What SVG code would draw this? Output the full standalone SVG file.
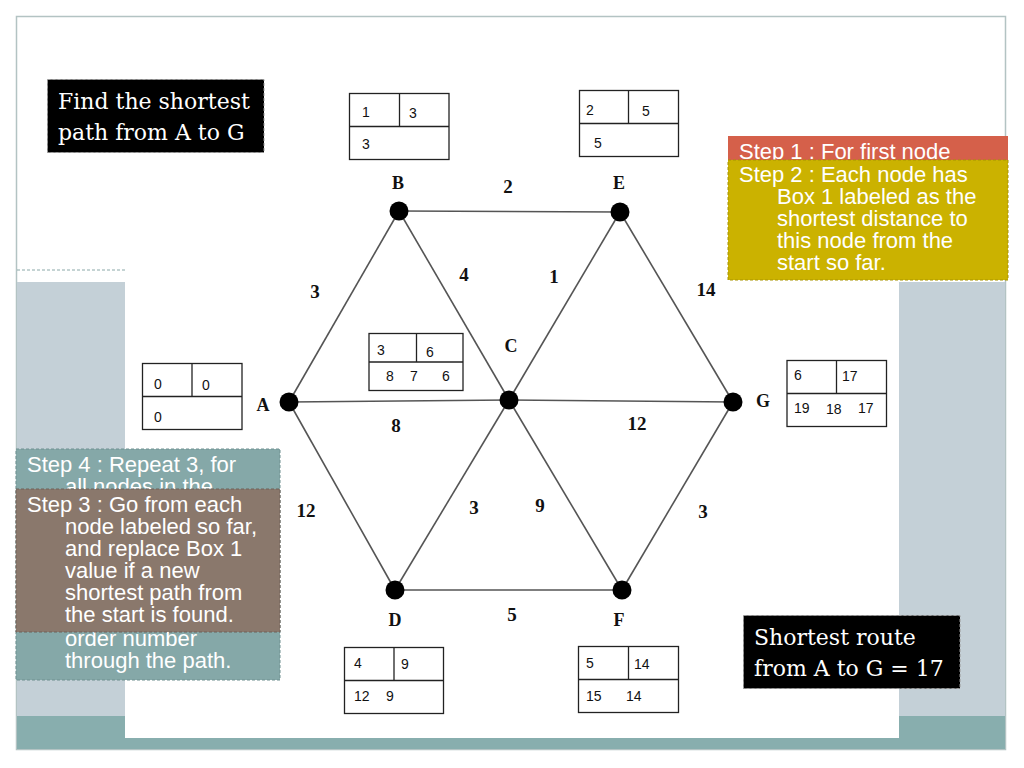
<svg xmlns="http://www.w3.org/2000/svg" width="1024" height="768" viewBox="0 0 1024 768">
<style>
.edge{stroke:#555;stroke-width:1.6;fill:none}
.dot{fill:#000}
.nl{font-family:"Liberation Serif",serif;font-weight:bold;font-size:18px;fill:#111;text-anchor:middle}
.wl{font-family:"Liberation Serif",serif;font-weight:bold;font-size:19px;fill:#111;text-anchor:middle}
.tb{fill:#fff;stroke:#222;stroke-width:1.3}
.tl{stroke:#222;stroke-width:1.3}
.tt{font-family:"Liberation Sans",Arial,sans-serif;font-size:14px;fill:#111}
.st{font-family:"Liberation Sans",Arial,sans-serif;font-size:22px;fill:#fff}
.bt{font-family:"DejaVu Serif",Georgia,serif;font-size:22px;fill:#fff}
</style>
<defs>
<clipPath id="clip4"><rect x="16" y="449" width="264" height="40"/></clipPath>
</defs>
<rect width="1024" height="768" fill="#fff"/>
<rect x="16.5" y="16.5" width="989" height="733" fill="#fff" stroke="#b3c3c3" stroke-width="1.5"/>
<line x1="17" y1="270" x2="125" y2="270" stroke="#8aa8a8" stroke-width="1" stroke-dasharray="3,2"/>
<rect x="17" y="282" width="108" height="434" fill="#c4d0d7"/>
<rect x="899" y="282" width="106" height="434" fill="#c4d0d7"/>
<rect x="17" y="716" width="988" height="33" fill="#88aeae"/>
<rect x="125" y="282" width="774" height="456" fill="#fff"/>

<g id="connectors">
<line class="edge" x1="289" y1="402" x2="399" y2="211"/>
<line class="edge" x1="399" y1="211" x2="620" y2="212"/>
<line class="edge" x1="620" y1="212" x2="733" y2="402"/>
<line class="edge" x1="733" y1="402" x2="622" y2="590"/>
<line class="edge" x1="622" y1="590" x2="395" y2="590"/>
<line class="edge" x1="395" y1="590" x2="289" y2="402"/>
<line class="edge" x1="289" y1="402" x2="509" y2="400"/>
<line class="edge" x1="509" y1="400" x2="733" y2="402"/>
<line class="edge" x1="399" y1="211" x2="509" y2="400"/>
<line class="edge" x1="509" y1="400" x2="622" y2="590"/>
<line class="edge" x1="620" y1="212" x2="509" y2="400"/>
<line class="edge" x1="509" y1="400" x2="395" y2="590"/>
<text class="wl" x="508" y="193">2</text>
<text class="wl" x="315" y="298">3</text>
<text class="wl" x="464" y="281">4</text>
<text class="wl" x="554" y="283">1</text>
<text class="wl" x="706" y="296">14</text>
<text class="wl" x="396" y="432">8</text>
<text class="wl" x="637" y="430">12</text>
<text class="wl" x="306" y="517">12</text>
<text class="wl" x="474" y="514">3</text>
<text class="wl" x="540" y="512">9</text>
<text class="wl" x="703" y="518">3</text>
<text class="wl" x="512" y="621">5</text>
</g>

<g id="node-A">
<circle class="dot" cx="289" cy="402" r="9.5"/>
<text class="nl" x="263" y="411">A</text>
<rect class="tb" x="142.5" y="363.5" width="99.5" height="66"/>
<line class="tl" x1="142.5" y1="396.5" x2="242" y2="396.5"/>
<line class="tl" x1="192" y1="363.5" x2="192" y2="396.5"/>
<text class="tt" x="154" y="389">0</text>
<text class="tt" x="202" y="390">0</text>
<text class="tt" x="154" y="422">0</text>
</g>

<g id="node-B">
<circle class="dot" cx="399" cy="211" r="9.5"/>
<text class="nl" x="398" y="189">B</text>
<rect class="tb" x="349.5" y="93.5" width="99.5" height="66"/>
<line class="tl" x1="349.5" y1="126.5" x2="449" y2="126.5"/>
<line class="tl" x1="399.5" y1="93.5" x2="399.5" y2="126.5"/>
<text class="tt" x="362" y="117">1</text>
<text class="tt" x="409" y="118">3</text>
<text class="tt" x="362" y="149">3</text>
</g>

<g id="node-E">
<circle class="dot" cx="620" cy="212" r="9.5"/>
<text class="nl" x="619" y="189">E</text>
<rect class="tb" x="579.5" y="90.5" width="99" height="66"/>
<line class="tl" x1="579.5" y1="123.5" x2="678.5" y2="123.5"/>
<line class="tl" x1="628.5" y1="90.5" x2="628.5" y2="123.5"/>
<text class="tt" x="586" y="115">2</text>
<text class="tt" x="642" y="116">5</text>
<text class="tt" x="594" y="148">5</text>
</g>

<g id="node-C">
<circle class="dot" cx="509" cy="400" r="9.5"/>
<text class="nl" x="511" y="352">C</text>
<rect class="tb" x="369" y="333.5" width="94" height="57"/>
<line class="tl" x1="369" y1="362" x2="463" y2="362"/>
<line class="tl" x1="416.5" y1="333.5" x2="416.5" y2="362"/>
<text class="tt" x="377" y="355">3</text>
<text class="tt" x="426" y="357">6</text>
<text class="tt" x="386" y="381">8</text>
<text class="tt" x="410" y="381">7</text>
<text class="tt" x="442" y="381">6</text>
</g>

<g id="node-G">
<circle class="dot" cx="733" cy="402" r="9.5"/>
<text class="nl" x="763" y="407">G</text>
<rect class="tb" x="787" y="360.5" width="99.5" height="66"/>
<line class="tl" x1="787" y1="393.5" x2="886.5" y2="393.5"/>
<line class="tl" x1="836.5" y1="360.5" x2="836.5" y2="393.5"/>
<text class="tt" x="794" y="380">6</text>
<text class="tt" x="842" y="381">17</text>
<text class="tt" x="794" y="413">19</text>
<text class="tt" x="826" y="414">18</text>
<text class="tt" x="858" y="413">17</text>
</g>

<g id="node-D">
<circle class="dot" cx="395" cy="590" r="9.5"/>
<text class="nl" x="395" y="626">D</text>
<rect class="tb" x="344.5" y="647.5" width="99" height="66"/>
<line class="tl" x1="344.5" y1="680.5" x2="443.5" y2="680.5"/>
<line class="tl" x1="394" y1="647.5" x2="394" y2="680.5"/>
<text class="tt" x="354" y="668">4</text>
<text class="tt" x="401" y="669">9</text>
<text class="tt" x="354" y="701">12</text>
<text class="tt" x="386" y="701">9</text>
</g>

<g id="node-F">
<circle class="dot" cx="622" cy="590" r="9.5"/>
<text class="nl" x="619" y="626">F</text>
<rect class="tb" x="578.5" y="646.5" width="100" height="66"/>
<line class="tl" x1="578.5" y1="679.5" x2="678.5" y2="679.5"/>
<line class="tl" x1="628.5" y1="646.5" x2="628.5" y2="679.5"/>
<text class="tt" x="586" y="668">5</text>
<text class="tt" x="634" y="669">14</text>
<text class="tt" x="586" y="701">15</text>
<text class="tt" x="626" y="701">14</text>
</g>

<g id="title">
<rect x="47.5" y="79.5" width="216.5" height="73" fill="#000" stroke="#999" stroke-width="1" stroke-dasharray="3,2"/>
<text class="bt" x="58" y="109">Find the shortest</text>
<text class="bt" x="58" y="140">path from A to G</text>
</g>

<g id="result">
<rect x="743.5" y="615.5" width="216.5" height="73" fill="#000" stroke="#999" stroke-width="1" stroke-dasharray="3,2"/>
<text class="bt" x="754" y="645">Shortest route</text>
<text class="bt" x="754" y="676">from A to G = 17</text>
</g>

<g id="step1">
<rect x="728" y="136" width="280" height="26" fill="#d5604a"/>
<text class="st" x="739" y="159">Step 1 : For first node</text>
</g>
<g id="step2">
<rect x="728" y="160" width="280" height="120" fill="#cbb200" stroke="#a89400" stroke-width="1" stroke-dasharray="3,2"/>
<text class="st" x="739" y="182">Step 2 : Each node has</text>
<text class="st" x="777" y="204">Box 1 labeled as the</text>
<text class="st" x="777" y="226">shortest distance to</text>
<text class="st" x="777" y="248">this node from the</text>
<text class="st" x="777" y="270">start so far.</text>
</g>

<g id="step4">
<rect x="16" y="449" width="264" height="231" fill="#85a8a8" stroke="#6e9090" stroke-width="1" stroke-dasharray="3,2"/>
<text class="st" x="27" y="472">Step 4 : Repeat 3, for</text>
<text class="st" x="65" y="494" clip-path="url(#clip4)">all nodes in the</text>
<text class="st" x="65" y="646">order number</text>
<text class="st" x="65" y="668">through the path.</text>
</g>
<g id="step3">
<rect x="16" y="489" width="264" height="143" fill="#8a786c" stroke="#6e6058" stroke-width="1" stroke-dasharray="3,2"/>
<text class="st" x="27" y="512">Step 3 : Go from each</text>
<text class="st" x="65" y="534">node labeled so far,</text>
<text class="st" x="65" y="556">and replace Box 1</text>
<text class="st" x="65" y="578">value if a new</text>
<text class="st" x="65" y="600">shortest path from</text>
<text class="st" x="65" y="622">the start is found.</text>
</g>
</svg>
